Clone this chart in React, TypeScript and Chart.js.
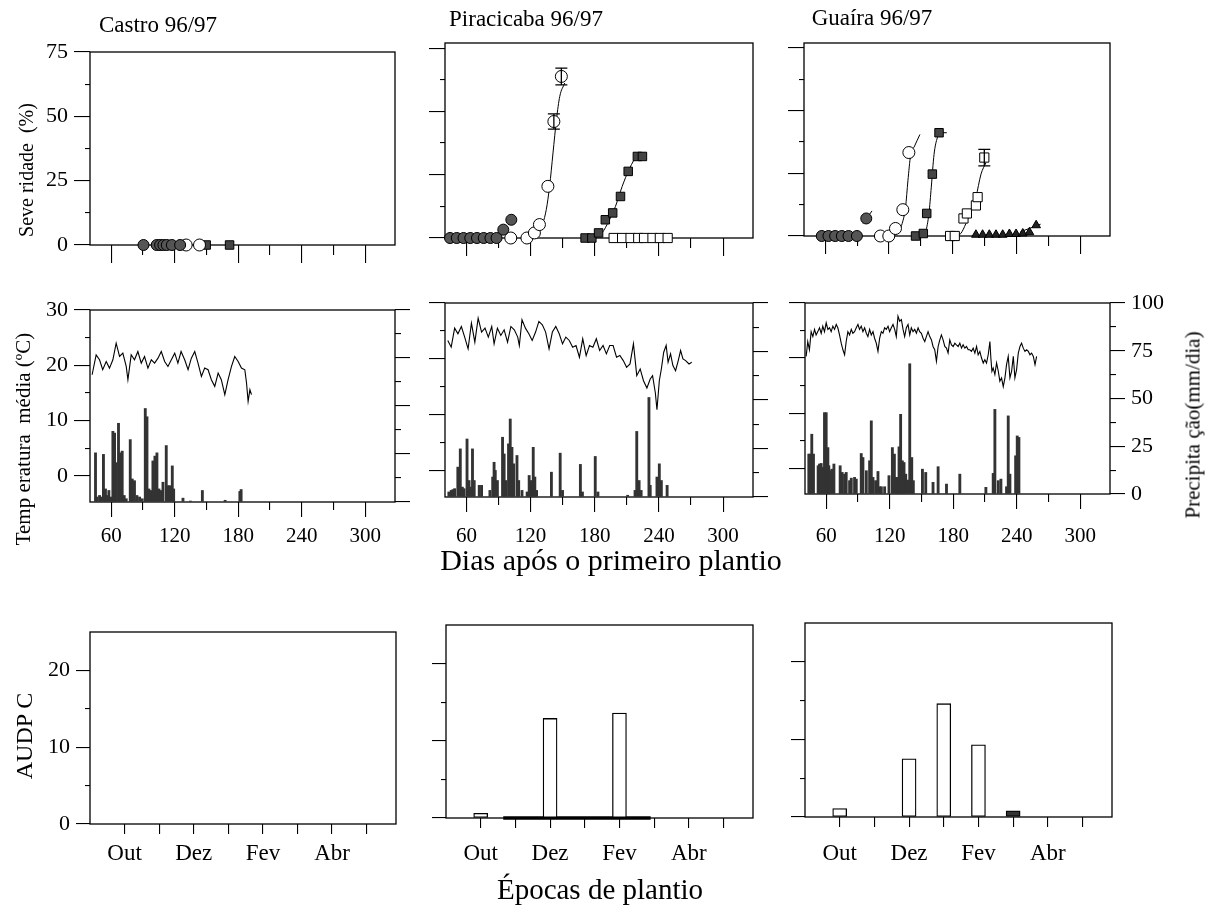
import React, { useEffect, useRef } from "react";
import { Chart, registerables } from "chart.js";

Chart.register(...registerables);

type Pair = [number, number];
type Rect = [number, number, number, number];

const FONT = "'Liberation Serif', 'Times New Roman', Times, serif";
const W = 1218;
const H = 913;

// ---------------- axes / ticks ----------------
const DAY_MIN = 40;
const DAY_MAX = 328;
const dayTicksMajor = [60, 120, 180, 240, 300];
const dayTicksMinor = [90, 150, 210, 270];
const severityMajor = [0, 25, 50, 75];
const severityMinor = [12.5, 37.5, 62.5];
const tempMajor = [0, 10, 20, 30];
const tempMinor = [5, 15, 25];
const precipMajor = [0, 25, 50, 75, 100];
const precipMinor = [12.5, 37.5, 62.5, 87.5];
const audpcMajor = [0, 10, 20];
const audpcMinor = [5, 15];
const months = ["Out", "Nov", "Dez", "Jan", "Fev", "Mar", "Abr", "Mai"];
const monthIndex = [0, 1, 2, 3, 4, 5, 6, 7];

// ---------------- severity (%) : [day, severity] ----------------
const castroFilledCircles: Pair[] = [[90.5, 0], [103, 0], [106.2, 0], [109.3, 0], [112.5, 0], [117.3, 0], [125.1, 0]];
const castroOpenCircles: Pair[] = [[130.8, 0], [143.4, 0]];
const castroFilledSquares: Pair[] = [[149.7, 0], [171.8, 0]];

const piraFilledCircles: Pair[] = [[44.7, 0], [51, 0], [57.3, 0], [63.6, 0], [69.9, 0], [76.2, 0], [82.5, 0], [88.2, 0], [94.5, 3.3], [102, 7.2]];
const piraOpenCircles: Pair[] = [[101.5, 0], [116.6, 0], [123.6, 2], [128.3, 5.3], [136.2, 20.4], [141.8, 46], [148.8, 63.8]];
const piraOpenCircleErr = [0, 0, 0, 0, 0, 3, 3.3];
const piraOpenCircleCurve: Pair[] = [[111, 0], [120.5, 0.4], [126.8, 2.6], [131.5, 5.9], [134.7, 11.2], [137.8, 20.4], [141, 33.6], [144.2, 46.7], [147.3, 55.9], [152, 61.2]];
const piraFilledSquares: Pair[] = [[171, 0], [177.3, 0], [183.6, 2], [189.9, 7.2], [196.8, 9.9], [204.1, 16.4], [211.3, 26.3], [219.9, 32.2], [224.6, 32.2]];
const piraFilledSquareCurve: Pair[] = [[180.5, 0], [186.8, 2], [193.1, 6.6], [199.4, 12.5], [205.7, 20.4], [212, 27], [216.8, 30.9]];
const piraOpenSquares: Pair[] = [[197.7, 0], [205.6, 0], [213.5, 0], [220.7, 0], [226.1, 0], [234, 0], [240.9, 0], [248.2, 0]];

const guaFilledCircles: Pair[] = [[56.7, 0], [63, 0], [69.3, 0], [75.6, 0], [81.9, 0], [89.8, 0], [98.6, 7]];
const guaFilledCircleCurve: Pair[] = [[95.5, 5], [104, 10]];
const guaOpenCircles: Pair[] = [[111.9, 0], [119.8, 0], [126.1, 3], [133, 10.5], [138.7, 33.3]];
const guaOpenCircleCurve: Pair[] = [[121.4, 0], [127.7, 1], [132.4, 5], [135.6, 11.6], [137.8, 22], [140.3, 32], [144.1, 35.9], [149.1, 40.5]];
const guaFilledSquares: Pair[] = [[145, 0], [152.3, 1], [155.5, 9], [160.8, 24.7], [167.1, 41.2]];
const guaFilledSquareCurve: Pair[] = [[151.3, 0], [154.5, 1.7], [157.6, 9], [159.8, 19.5], [162.4, 32.6], [165.5, 39.2], [168.7, 41.2], [174.4, 41.2]];
const guaOpenSquares: Pair[] = [[177.5, 0], [181.9, 0], [190.1, 7], [193.3, 9], [201.8, 12.2], [203.4, 15.5], [209.7, 31.3]];
const guaOpenSquareErr = [0, 0, 0, 0, 0, 0, 3.3];
const guaOpenSquareCurve: Pair[] = [[182.9, 0], [187.6, 1], [192.4, 5], [197.1, 10], [201.8, 15.5], [206.6, 24.7], [211.3, 29.3]];
const guaFilledTriangles: Pair[] = [[201.8, 0.5], [208.1, 0.5], [214.4, 0.5], [220.7, 0.5], [227, 0.5], [233.3, 0.8], [239.6, 0.8], [245.9, 1], [252.2, 1.5], [258.5, 4.3]];
const guaTriangleCurve: Pair[] = [[243.8, 1.7], [262.7, 4.7]];

// ---------------- mean temperature (°C) : [day, temp] ----------------
const castroTemp: Pair[] = [[42, 18.3], [45.8, 21.9], [49, 21], [52, 19.2], [55.3, 20.7], [58.4, 19.5], [61.6, 21], [64.7, 24], [67.9, 21.6], [71, 22.2], [74.2, 19.8], [75.8, 17.4], [78.9, 21.9], [82, 21], [85.2, 22.5], [88.4, 20.4], [91.5, 21.6], [94.7, 19.5], [97.9, 21], [101, 20.4], [104.2, 21.3], [107.3, 22.5], [110.5, 20.7], [113.6, 19.8], [116.8, 21], [120, 22.2], [123, 20.4], [126, 22.5], [129.4, 21], [132.6, 19.2], [135.7, 21.3], [138.9, 22.5], [142, 20.4], [145.2, 18], [148.3, 19.5], [151.5, 19.2], [154.6, 17.4], [157.8, 16.2], [161, 18.6], [164, 17.4], [167.3, 14.7], [170.4, 17.4], [173.6, 19.8], [176.7, 21.6], [179.9, 20.7], [183, 19.5], [186.2, 19.2], [187.8, 16.8], [189.3, 13.5], [191, 15.6], [192.5, 14.7]];
const piraTemp: Pair[] = [[42.6, 23.3], [45.8, 22.1], [49, 25.5], [52.1, 24.5], [55.3, 25.8], [58.4, 23.9], [61.6, 21.8], [64.7, 26.4], [67.9, 23], [71, 27.3], [74.2, 24.8], [77.4, 25.5], [80.5, 23.9], [83.7, 25.8], [85.9, 22.7], [89, 25.5], [92.2, 24.2], [95.3, 25.2], [98.5, 23], [101.6, 25.8], [104.8, 25.2], [108, 23.9], [109.5, 22.4], [112, 27], [115.2, 25.5], [118.4, 24.5], [121.5, 23.3], [124.7, 24.8], [127.8, 26.7], [131, 26.1], [134.1, 24.8], [137.3, 21.8], [140.4, 24.8], [143.6, 25.8], [146.8, 24.5], [149.9, 22.7], [153, 23.9], [156.2, 23.3], [159.4, 22.1], [162.5, 22.4], [165.7, 20.3], [168.8, 23.6], [172, 20.6], [175.1, 22.4], [178.3, 22.1], [181.5, 23.6], [184.6, 21.5], [187.8, 22.4], [190.9, 20.9], [194, 22.4], [197.2, 22.4], [200.4, 20.3], [203.5, 20.6], [206.7, 19.7], [209.8, 18.5], [213, 19.1], [216.2, 22.7], [217.7, 20], [219.3, 17], [222.5, 18.2], [225.6, 16.1], [228.8, 14.8], [231.9, 16.4], [234.1, 17], [236.7, 13.9], [238.2, 10.9], [240.4, 16.1], [242.3, 18.2], [244.5, 21.2], [246.8, 22.4], [248.6, 19.4], [250.9, 20.9], [253.1, 18.8], [255.6, 17.9], [258.1, 19.7], [260.3, 21.5], [262.5, 20], [265, 19.7], [268.2, 19.1], [270.7, 19.4]];
const guaTemp: Pair[] = [[41.1, 20.3], [42.6, 23], [44.2, 21.5], [45.8, 24.8], [47.4, 23.9], [49, 25.2], [50.5, 24.2], [52.1, 24.8], [53.7, 25.5], [55.3, 24.5], [56.8, 25.8], [58.4, 24.8], [60, 26.4], [61.6, 25.2], [63.2, 25.5], [64.7, 24.8], [66.3, 25.8], [67.9, 25.2], [69.5, 26.1], [71, 25.5], [72.6, 24.2], [74.2, 22.7], [75.8, 21.5], [77.4, 20.6], [78.9, 23], [80.5, 24.8], [82.1, 24.2], [83.7, 25.2], [85.2, 24.5], [86.8, 24.8], [88.4, 25.5], [90, 26.1], [91.5, 25.2], [93.1, 25.8], [94.7, 24.8], [96.3, 25.5], [97.9, 24.5], [99.4, 23.9], [101, 25.2], [102.6, 24.2], [104.2, 24.8], [105.7, 23.6], [107.3, 22.7], [108.9, 21.2], [110.5, 23.6], [112.1, 24.8], [113.6, 24.5], [115.2, 25.5], [116.8, 25.2], [118.4, 25.8], [119.9, 24.8], [121.5, 25.5], [123.1, 26.1], [124.7, 25.2], [126.2, 23.9], [127.8, 27.6], [129.4, 26.7], [131, 27], [132.6, 25.2], [134.1, 23.9], [135.7, 25.5], [137.3, 26.1], [138.9, 24.2], [140.4, 25.5], [142, 24.8], [143.6, 25.2], [145.2, 24.5], [146.8, 25.5], [148.3, 24.8], [149.9, 24.5], [151.5, 23.6], [153.1, 23], [154.6, 23.9], [156.2, 24.8], [157.8, 23.9], [159.4, 23.3], [160.9, 22.1], [162.5, 21.5], [164.1, 19.4], [165.7, 22.1], [167.3, 23.3], [168.8, 24.2], [170.4, 23.3], [172, 22.1], [173.6, 21.8], [175.1, 20.9], [176.7, 23.3], [178.3, 22.4], [179.9, 22.1], [181.5, 22.7], [183, 22.4], [184.6, 22.1], [186.2, 22.7], [187.8, 21.8], [189.3, 22.4], [190.9, 21.8], [192.5, 22.1], [194.1, 21.5], [195.6, 21.5], [197.2, 21.2], [198.8, 21.8], [200.4, 20.9], [202, 22.1], [203.5, 20.6], [205.1, 21.2], [206.7, 20], [208.3, 19.1], [209.8, 19.7], [211.4, 19.1], [213, 20.6], [214.6, 23], [215.5, 20], [216.5, 17.6], [217.7, 18.2], [219.3, 17], [220.9, 19.1], [222.5, 17.6], [224, 15.8], [225.6, 16.4], [227.2, 14.8], [228.8, 16.4], [230.3, 18.8], [231.9, 20.3], [233.5, 16.4], [235.1, 17.6], [236.7, 20.3], [238.2, 16.4], [239.8, 17.9], [241.4, 20.9], [243, 22.1], [244.5, 22.7], [246.1, 21.8], [247.7, 21.2], [249.3, 21.5], [250.9, 21.2], [252.4, 20.6], [254, 20.9], [255.6, 20.3], [257.2, 18.8], [258.7, 20.3]];

// ---------------- precipitation (mm/dia) : [day, mm] ----------------
const castroRain: Pair[] = [[45.2, 25.6], [46.4, 2.6], [49, 3.4], [50.5, 2.6], [52.7, 24.8], [54.6, 6.8], [56.2, 3.4], [57.8, 6], [60, 2.6], [61.6, 36.8], [63.2, 35.9], [64.7, 20.5], [66.9, 41], [68.5, 25.6], [70.4, 26.5], [72.3, 3.4], [74.2, 1.7], [78, 32.5], [79.9, 12], [82, 11.1], [84.3, 3.4], [86.8, 2.6], [89.3, 1.7], [92.2, 48.7], [93.8, 44.4], [95.6, 6.8], [97.9, 6], [99.4, 21.4], [101.3, 23.9], [103.2, 25.6], [105.1, 6.8], [106.7, 6], [108.9, 10.3], [112, 29.4], [113.6, 8.5], [115.2, 8.5], [117.7, 18.8], [119, 6.8], [127.8, 2], [134.8, 0.5], [146.1, 6], [167.6, 0.9], [181.5, 5.5], [182.7, 6.5]];
const piraRain: Pair[] = [[43.6, 2.6], [45.8, 3.4], [47.4, 3.8], [49, 4.3], [52, 15.4], [54.3, 24.8], [56.2, 5.1], [57.8, 4.3], [60.6, 29.9], [62.5, 8.5], [63.8, 5.1], [65.7, 24.8], [67.3, 8.5], [72, 6], [74.2, 6], [82, 3.4], [84.6, 10.3], [85.9, 17.9], [87, 13.7], [89, 8.5], [93.8, 30.8], [95.3, 22.2], [96.9, 8.5], [99.4, 27.4], [101, 40.2], [102.6, 25.6], [104.2, 17.1], [107.3, 21.4], [108.9, 8.5], [112, 3.4], [116.8, 2.6], [118.7, 11.1], [120.6, 8.5], [122.5, 25.6], [124, 10.3], [125.6, 3.4], [139.5, 12.8], [147.7, 22.6], [149.9, 3.4], [166.6, 16.8], [168.5, 2.6], [180.5, 20.9], [183, 2.6], [210.8, 0.9], [217.7, 3.4], [219.3, 33.8], [221.5, 8.5], [223.4, 3.4], [230.7, 51.3], [231.9, 6], [238.2, 10.3], [240.4, 17.1], [242.3, 8.5], [247.7, 6]];
const guaRain: Pair[] = [[43.6, 20.9], [44.9, 20.9], [46.4, 31.3], [48, 20.9], [52.4, 14.8], [53.7, 15.7], [55.3, 16], [56.8, 13.9], [58.4, 42.6], [60, 42.6], [61.6, 24.3], [62.5, 14.8], [63.8, 12.2], [65.4, 13], [67.3, 15.7], [73.2, 14.8], [75.1, 11.3], [77.4, 10.4], [78.9, 11.3], [82.1, 7], [83.7, 8.3], [86.8, 8.7], [88.4, 7.8], [93.1, 21.2], [94.7, 19.1], [97.9, 12.2], [101, 17.4], [102.6, 38.3], [104.2, 8.7], [106.7, 7], [108.9, 11.8], [110.5, 3.8], [112.1, 3.8], [115.2, 3.8], [119.3, 9.6], [122.5, 24.3], [124.4, 20.9], [126.2, 8.7], [127.8, 8.7], [128.8, 24.7], [130.3, 41.7], [131.9, 17.4], [133.5, 16.5], [135.1, 10.4], [137.3, 7.3], [138.9, 68.2], [140.8, 19.1], [142.3, 7], [150.9, 13], [154, 11.3], [160.9, 6.1], [165.7, 14.3], [173.6, 5.2], [186.2, 10.4], [210.8, 3.5], [217.7, 10.8], [219.3, 44.3], [222.5, 7], [225, 7.8], [230.3, 3.8], [231.9, 40.9], [233.5, 10.4], [238.9, 20], [240.4, 30.4], [242, 29.6]];

// ---------------- AUDPC per planting month ----------------
const castroAudpc = [0, 0, 0, 0, 0, 0, 0, 0];
const piraAudpc = [0.6, 0, 12.9, 0, 13.6, 0, 0, 0];
const guaAudpc = [1.1, 0, 7.5, 14.6, 9.3, 0.8, 0, 0];
const guaAudpcDark = [false, false, false, false, false, true, false, false];
const piraZeroBaseline: Pair[] = [[0.65, 0], [4.9, 0]];

// ---------------- layout (plot rectangles) ----------------
const TOP: Rect[] = [[90, 52, 395, 245], [445, 43, 753, 238], [804, 43, 1110, 236]];
const MID: Rect[] = [[90, 310, 395, 502], [445, 303, 753, 497], [805, 303, 1110, 494]];
const BOT: Rect[] = [[90, 632, 396, 824], [446, 625, 753, 818], [805, 623, 1112, 817]];
const SIDE_BOX = 70;
const BOTTOM_BOX = 55;

const xy = (p: Pair[]) => p.map(([x, y]) => ({ x, y }));

const framePlugin = {
  id: "frame",
  beforeDatasetsDraw(chart: any) {
    const { ctx, chartArea: a } = chart;
    ctx.save();
    ctx.strokeStyle = "#000";
    ctx.lineWidth = 1.3;
    ctx.strokeRect(a.left, a.top, a.right - a.left, a.bottom - a.top);
    ctx.restore();
  },
};

const errorBarPlugin = {
  id: "errbars",
  afterDatasetsDraw(chart: any) {
    const ctx = chart.ctx;
    chart.data.datasets.forEach((ds: any, di: number) => {
      if (!ds.errorBars) return;
      const meta = chart.getDatasetMeta(di);
      const ys = chart.scales[meta.yAxisID];
      ds.data.forEach((pt: any, i: number) => {
        const e = ds.errorBars[i];
        if (!e) return;
        const x = meta.data[i].x;
        const y1 = ys.getPixelForValue(pt.y + e);
        const y2 = ys.getPixelForValue(pt.y - e);
        ctx.save();
        ctx.strokeStyle = "#000";
        ctx.lineWidth = 1.3;
        ctx.beginPath();
        ctx.moveTo(x, y1); ctx.lineTo(x, y2);
        ctx.moveTo(x - 6, y1); ctx.lineTo(x + 6, y1);
        ctx.moveTo(x - 6, y2); ctx.lineTo(x + 6, y2);
        ctx.stroke();
        ctx.restore();
      });
    });
  },
};

type AxisSpec = {
  pos: "left" | "right" | "bottom";
  min: number;
  max: number;
  major: number[];
  minor: number[];
  majorLen: number;
  minorLen: number;
  box: number;
  labels?: (v: number) => string;
  size?: number;
  padding?: number;
};

function axes(id: string, s: AxisSpec) {
  const isX = s.pos === "bottom";
  const base = (vals: number[], len: number, boxSize: number, weight: number) => ({
    type: "linear",
    position: s.pos,
    min: s.min,
    max: s.max,
    offset: false,
    weight,
    afterFit: (sc: any) => { if (isX) sc.height = boxSize; else sc.width = boxSize; },
    afterBuildTicks: (sc: any) => { sc.ticks = vals.map((v) => ({ value: v })); },
    border: { display: false },
    grid: { display: true, drawOnChartArea: false, drawTicks: true, tickLength: len, color: "#000", lineWidth: 1.1, offset: false },
  });
  const out: any = {};
  out[id] = {
    ...base(s.major, s.majorLen, s.box, 1),
    ticks: s.labels
      ? { display: true, autoSkip: false, maxRotation: 0, minRotation: 0, color: "#000", padding: s.padding ?? 4, font: { family: FONT, size: s.size ?? 22 }, callback: (v: any) => s.labels!(Number(v)) }
      : { display: false },
  };
  if (s.minor.length) {
    out[id + "Minor"] = { ...base(s.minor, s.minorLen, 0, 0), ticks: { display: false } };
  }
  return out;
}

function common(r: Rect, scales: any, boxes: { left: number; right: number; bottom: number }) {
  return {
    animation: false,
    responsive: false,
    maintainAspectRatio: false,
    events: [],
    layout: { padding: { left: r[0] - boxes.left, top: r[1], right: W - r[2] - boxes.right, bottom: H - r[3] - boxes.bottom } },
    plugins: { legend: { display: false }, tooltip: { enabled: false }, title: { display: false } },
    scales,
  };
}

type Kind = "fc" | "oc" | "fs" | "os" | "ft";
const MARK: Record<Kind, { style: string; r: number; bg: string }> = {
  fc: { style: "circle", r: 5.5, bg: "#555" },
  oc: { style: "circle", r: 6, bg: "#fff" },
  fs: { style: "rect", r: 6, bg: "#444" },
  os: { style: "rect", r: 6.5, bg: "#fff" },
  ft: { style: "triangle", r: 5, bg: "#222" },
};

function marks(kind: Kind, pts: Pair[], err?: number[]) {
  const m = MARK[kind];
  return {
    type: "scatter", data: xy(pts), showLine: false, clip: false,
    pointStyle: m.style, pointRadius: m.r, pointBackgroundColor: m.bg, pointBorderColor: "#000", pointBorderWidth: 1,
    errorBars: err,
  };
}
function curve(pts: Pair[]) {
  return { type: "line", data: xy(pts), borderColor: "#000", borderWidth: 1, pointRadius: 0, cubicInterpolationMode: "monotone", clip: false, fill: false };
}

function severityChart(r: Rect, yMax: number, yLabels: boolean, sets: any[]) {
  return {
    type: "scatter",
    data: { datasets: sets },
    options: common(r, {
      ...axes("x", { pos: "bottom", min: DAY_MIN, max: DAY_MAX, major: dayTicksMajor, minor: dayTicksMinor, majorLen: 18, minorLen: 10, box: 0 }),
      ...axes("y", { pos: "left", min: 0, max: yMax, major: severityMajor, minor: severityMinor, majorLen: 16, minorLen: 5, box: SIDE_BOX, labels: yLabels ? (v) => String(v) : undefined, padding: 6 }),
    }, { left: SIDE_BOX, right: 0, bottom: 0 }),
    plugins: [framePlugin, errorBarPlugin],
  };
}

function climateChart(r: Rect, temp: Pair[], rain: Pair[], leftLabels: boolean, rightLabels: boolean, xPad: number) {
  return {
    type: "bar",
    data: {
      datasets: [
        { type: "line", data: xy(temp), xAxisID: "x", yAxisID: "y", borderColor: "#000", borderWidth: 1.1, pointRadius: 0, tension: 0, fill: false },
        { type: "bar", data: xy(rain), xAxisID: "x", yAxisID: "y2", backgroundColor: "#333", borderWidth: 0, barThickness: 2.2 },
      ],
    },
    options: common(r, {
      ...axes("x", { pos: "bottom", min: DAY_MIN, max: DAY_MAX, major: dayTicksMajor, minor: dayTicksMinor, majorLen: 15, minorLen: 8, box: BOTTOM_BOX, labels: (v) => String(v), size: 21, padding: xPad }),
      ...axes("y", { pos: "left", min: -4.7, max: 30, major: tempMajor, minor: tempMinor, majorLen: 16, minorLen: 5, box: SIDE_BOX, labels: leftLabels ? (v) => String(v) : undefined, padding: 6 }),
      ...axes("y2", { pos: "right", min: 0, max: 100, major: precipMajor, minor: precipMinor, majorLen: 15, minorLen: 6, box: SIDE_BOX, labels: rightLabels ? (v) => String(v) : undefined, padding: 6 }),
    }, { left: SIDE_BOX, right: SIDE_BOX, bottom: BOTTOM_BOX }),
    plugins: [framePlugin],
  };
}

function audpcChart(r: Rect, values: number[], dark: boolean[] | null, yLabels: boolean, xPad: number, baseline: Pair[] | null) {
  const sets: any[] = [
    {
      type: "bar",
      data: values.map((v, i) => ({ x: monthIndex[i], y: v })),
      xAxisID: "x", yAxisID: "y",
      backgroundColor: values.map((_, i) => (dark && dark[i] ? "#333" : "#fff")),
      borderColor: "#000", borderWidth: 1.3, borderSkipped: false, barThickness: 14,
    },
  ];
  if (baseline) sets.push({ type: "line", data: xy(baseline), xAxisID: "x", yAxisID: "y", borderColor: "#000", borderWidth: 3.5, pointRadius: 0, clip: false });
  return {
    type: "bar",
    data: { datasets: sets },
    options: common(r, {
      ...axes("x", { pos: "bottom", min: -1, max: 7.85, major: monthIndex, minor: [], majorLen: 10, minorLen: 0, box: BOTTOM_BOX, labels: (v) => (v % 2 === 0 ? months[v] : ""), size: 23, padding: xPad }),
      ...axes("y", { pos: "left", min: 0, max: 25, major: audpcMajor, minor: audpcMinor, majorLen: 14, minorLen: 5, box: SIDE_BOX, labels: yLabels ? (v) => String(v) : undefined, padding: 6 }),
    }, { left: SIDE_BOX, right: 0, bottom: BOTTOM_BOX }),
    plugins: [framePlugin],
  };
}

function buildConfigs(): any[] {
  return [
    severityChart(TOP[0], 75, true, [
      marks("fc", castroFilledCircles),
      marks("oc", castroOpenCircles),
      marks("fs", castroFilledSquares),
    ]),
    severityChart(TOP[1], 77, false, [
      marks("fc", piraFilledCircles),
      marks("oc", piraOpenCircles, piraOpenCircleErr),
      marks("fs", piraFilledSquares),
      marks("os", piraOpenSquares),
      curve(piraOpenCircleCurve),
      curve(piraFilledSquareCurve),
    ]),
    severityChart(TOP[2], 77, false, [
      marks("fc", guaFilledCircles),
      marks("oc", guaOpenCircles),
      marks("fs", guaFilledSquares),
      marks("os", guaOpenSquares, guaOpenSquareErr),
      marks("ft", guaFilledTriangles),
      curve(guaFilledCircleCurve),
      curve(guaOpenCircleCurve),
      curve(guaFilledSquareCurve),
      curve(guaOpenSquareCurve),
      curve(guaTriangleCurve),
    ]),
    climateChart(MID[0], castroTemp, castroRain, true, false, 7),
    climateChart(MID[1], piraTemp, piraRain, false, false, 12),
    climateChart(MID[2], guaTemp, guaRain, false, true, 15),
    audpcChart(BOT[0], castroAudpc, null, true, 6, null),
    audpcChart(BOT[1], piraAudpc, null, false, 12, piraZeroBaseline),
    audpcChart(BOT[2], guaAudpc, guaAudpcDark, false, 13, null),
  ];
}

type Label = { text: string; x: number; y: number; size: number; rot?: number };
const LABELS: Label[] = [
  { text: "Castro 96/97", x: 158, y: 24, size: 23 },
  { text: "Piracicaba 96/97", x: 526, y: 18, size: 23 },
  { text: "Guaíra 96/97", x: 872, y: 17, size: 23 },
  { text: "Seve ridade  (%)", x: 26, y: 170, size: 20, rot: -90 },
  { text: "Temp eratura  média (ºC)", x: 23, y: 439, size: 21, rot: -90 },
  { text: "Precipita ção(mm/dia)", x: 1193, y: 425, size: 21, rot: -90 },
  { text: "AUDP C", x: 24, y: 736, size: 24, rot: -90 },
  { text: "Dias após o primeiro plantio", x: 611, y: 560, size: 30 },
  { text: "Épocas de plantio", x: 600, y: 889, size: 29 },
];

export default function App() {
  const refs = useRef<(HTMLCanvasElement | null)[]>([]);
  const count = 9;
  useEffect(() => {
    Chart.defaults.font.family = FONT;
    Chart.defaults.color = "#000";
    const charts = buildConfigs().map((cfg, i) => new Chart(refs.current[i] as HTMLCanvasElement, cfg));
    return () => charts.forEach((c) => c.destroy());
  }, []);
  return (
    <div style={{ position: "absolute", left: 0, top: 0, width: W, height: H, background: "#fff", overflow: "hidden", fontFamily: FONT, color: "#000" }}>
      {Array.from({ length: count }).map((_, i) => (
        <canvas
          key={i}
          ref={(el) => { refs.current[i] = el; }}
          width={W}
          height={H}
          style={{ position: "absolute", left: 0, top: 0, width: W, height: H }}
        />
      ))}
      {LABELS.map((l, i) => (
        <div
          key={"l" + i}
          style={{
            position: "absolute",
            left: l.x,
            top: l.y,
            fontSize: l.size,
            lineHeight: 1,
            whiteSpace: "pre",
            transform: `translate(-50%, -50%)${l.rot ? ` rotate(${l.rot}deg)` : ""}`,
          }}
        >
          {l.text}
        </div>
      ))}
    </div>
  );
}
